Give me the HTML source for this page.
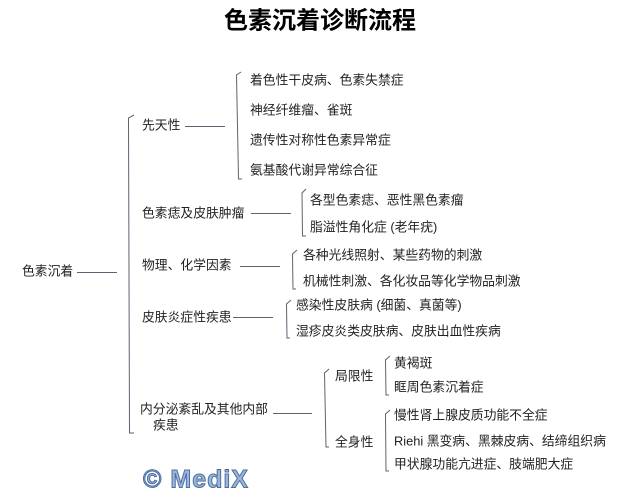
<!DOCTYPE html>
<html><head><meta charset="utf-8"><style>
html,body{margin:0;padding:0;background:#fff;}
svg{display:block}
text{font-family:"Liberation Sans","Noto Sans CJK SC",sans-serif;font-size:12.8px;fill:#222;dominant-baseline:middle}
.l{stroke:#5a6470;stroke-width:1;fill:none}
</style></head><body>
<svg width="644" height="492" viewBox="0 0 644 492" xmlns="http://www.w3.org/2000/svg">
<text x="320" y="22" text-anchor="middle" style="font-size:24px;font-weight:bold;fill:#000">色素沉着诊断流程</text>

<text x="22" y="272">色素沉着</text>
<line class="l" x1="77" y1="272.5" x2="117" y2="272.5"/>
<path class="l" d="M134 115 L128.5 118 L129.5 433 L134 433"/>

<text x="142" y="126">先天性</text>
<line class="l" x1="185" y1="126.5" x2="225" y2="126.5"/>
<path class="l" d="M241 72 L236.5 75 L238.5 179 L242 179"/>
<text x="250" y="81">着色性干皮病、色素失禁症</text>
<text x="250" y="111">神经纤维瘤、雀斑</text>
<text x="250" y="141">遗传性对称性色素异常症</text>
<text x="250" y="171">氨基酸代谢异常综合征</text>

<text x="142" y="214">色素痣及皮肤肿瘤</text>
<line class="l" x1="251" y1="213.5" x2="291" y2="213.5"/>
<path class="l" d="M306 189 L302 193 L302.5 236 L306 236"/>
<text x="310" y="201">各型色素痣、恶性黑色素瘤</text>
<text x="310" y="228">脂溢性角化症 (老年疣)</text>

<text x="142" y="266">物理、化学因素</text>
<line class="l" x1="240" y1="266.5" x2="280" y2="266.5"/>
<path class="l" d="M297 250 L292.5 254 L293 289 L296 289"/>
<text x="303" y="256">各种光线照射、某些药物的刺激</text>
<text x="303" y="282">机械性刺激、各化妆品等化学物品刺激</text>

<text x="142" y="318">皮肤炎症性疾患</text>
<line class="l" x1="233" y1="317.5" x2="273" y2="317.5"/>
<path class="l" d="M291 300 L286.5 304 L287 338 L290 338"/>
<text x="296" y="306">感染性皮肤病 (细菌、真菌等)</text>
<text x="296" y="332">湿疹皮炎类皮肤病、皮肤出血性疾病</text>

<text x="140" y="410">内分泌紊乱及其他内部</text>
<text x="153" y="426">疾患</text>
<line class="l" x1="273" y1="413.5" x2="312" y2="413.5"/>
<path class="l" d="M329 369 L324.5 373 L326 447 L329 447"/>
<text x="335" y="377">局限性</text>
<text x="335" y="443">全身性</text>
<path class="l" d="M390 356 L385.5 360 L386 395 L389 395"/>
<text x="394" y="364">黄褐斑</text>
<text x="394" y="388">眶周色素沉着症</text>
<path class="l" d="M390 410 L385.5 414 L386 471 L389 471"/>
<text x="394" y="416">慢性肾上腺皮质功能不全症</text>
<text x="394" y="442">Riehi 黑变病、黑棘皮病、结缔组织病</text>
<text x="394" y="465">甲状腺功能亢进症、肢端肥大症</text>

<text x="143" y="481" style="font-size:25px;font-weight:bold;fill:#9bb6dc;stroke:#4e6f9c;stroke-width:1;letter-spacing:1px">© MediX</text>
</svg>
</body></html>
